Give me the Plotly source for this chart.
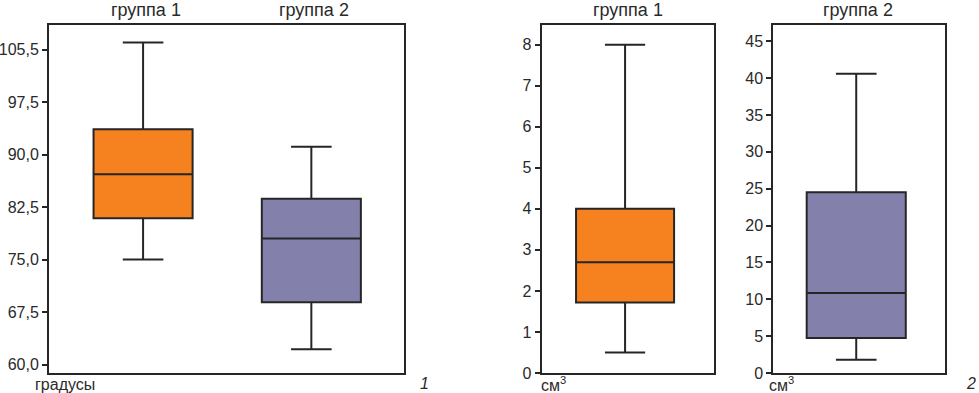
import plotly.graph_objects as go

W, H = 979, 393

# ---- data ----
deg_groups = ["группа 1", "группа 2"]
deg_lower = [75.0, 62.2]
deg_q1 = [80.9, 68.9]
deg_median = [87.2, 78.0]
deg_q3 = [93.6, 83.7]
deg_upper = [106.0, 91.1]
deg_tickvals = [60, 67.5, 75, 82.5, 90, 97.5, 105]
deg_ticktext = ["60,0", "67,5", "75,0", "82,5", "90,0", "97,5", "105,5"]

vol1_stats = dict(lower=0.5, q1=1.72, median=2.7, q3=4.0, upper=8.0)
vol1_tickvals = [0, 1, 2, 3, 4, 5, 6, 7, 8]

vol2_stats = dict(lower=1.8, q1=4.75, median=10.85, q3=24.5, upper=40.6)
vol2_tickvals = [0, 5, 10, 15, 20, 25, 30, 35, 40, 45]

ORANGE = "#F5821F"
PURPLE = "#8480AC"
LINE = "#262626"
TXT = "#2a2a2a"
FONT = "Liberation Sans, Arial, sans-serif"

def px_x(p):
    return p / W

def px_y(p):
    return 1 - p / H

fig = go.Figure()

# left panel
left_pos = [0.265, 0.739]
colors = [ORANGE, PURPLE]
for i in range(2):
    fig.add_trace(go.Box(
        x=[left_pos[i]], q1=[deg_q1[i]], median=[deg_median[i]], q3=[deg_q3[i]],
        lowerfence=[deg_lower[i]], upperfence=[deg_upper[i]],
        fillcolor=colors[i], line=dict(color=LINE, width=2),
        width=0.279, whiskerwidth=0.41, boxpoints=False,
        xaxis="x", yaxis="y", showlegend=False, hoverinfo="skip"))

# middle panel
fig.add_trace(go.Box(
    x=[0.483], q1=[vol1_stats["q1"]], median=[vol1_stats["median"]], q3=[vol1_stats["q3"]],
    lowerfence=[vol1_stats["lower"]], upperfence=[vol1_stats["upper"]],
    fillcolor=ORANGE, line=dict(color=LINE, width=2),
    width=0.568, whiskerwidth=0.41, boxpoints=False,
    xaxis="x2", yaxis="y2", showlegend=False, hoverinfo="skip"))

# right panel
fig.add_trace(go.Box(
    x=[0.483], q1=[vol2_stats["q1"]], median=[vol2_stats["median"]], q3=[vol2_stats["q3"]],
    lowerfence=[vol2_stats["lower"]], upperfence=[vol2_stats["upper"]],
    fillcolor=PURPLE, line=dict(color=LINE, width=2),
    width=0.577, whiskerwidth=0.41, boxpoints=False,
    xaxis="x3", yaxis="y3", showlegend=False, hoverinfo="skip"))

ydom = [px_y(373), px_y(25)]
xcommon = dict(range=[0, 1], showline=True, mirror=True, linecolor=LINE, linewidth=2,
               showticklabels=False, ticks="", showgrid=False, zeroline=False,
               fixedrange=True, automargin=False)
ycommon = dict(showline=True, mirror=True, linecolor=LINE, linewidth=2, ticks="outside",
               ticklen=5, tickwidth=1.5, tickcolor=LINE, showgrid=False, zeroline=False,
               tickfont=dict(family=FONT, size=16, color=TXT), fixedrange=True,
               automargin=False)

fig.update_layout(
    template="none",
    width=W, height=H,
    margin=dict(l=0, r=0, t=0, b=0, pad=0, autoexpand=False),
    paper_bgcolor="white", plot_bgcolor="white",
    xaxis=dict(domain=[px_x(49), px_x(404)], anchor="y", **xcommon),
    yaxis=dict(domain=ydom, anchor="x", range=[58.8, 108.5],
               tickvals=deg_tickvals, ticktext=deg_ticktext, **ycommon),
    xaxis2=dict(domain=[px_x(541.7), px_x(714.3)], anchor="y2", **xcommon),
    yaxis2=dict(domain=ydom, anchor="x2", range=[0, 8.48],
                tickvals=vol1_tickvals, **ycommon),
    xaxis3=dict(domain=[px_x(773.3), px_x(945)], anchor="y3", **xcommon),
    yaxis3=dict(domain=ydom, anchor="x3", range=[0, 47.2],
                tickvals=vol2_tickvals, **ycommon),
    font=dict(family=FONT, color=TXT),
    showlegend=False,
)

def ann(text, x, y, size=16, italic=False, xanchor="center"):
    t = f"<i>{text}</i>" if italic else text
    fig.add_annotation(text=t, x=px_x(x), y=px_y(y), xref="paper", yref="paper",
                       showarrow=False, xanchor=xanchor, yanchor="middle",
                       font=dict(family=FONT, size=size, color=TXT))

ann(deg_groups[0], 145.5, 9.5, size=18)
ann(deg_groups[1], 314, 9.5, size=18)
ann(deg_groups[0], 627.5, 9.5, size=18)
ann(deg_groups[1], 857.8, 9.5, size=18)
ann("градусы", 33, 384, size=16, xanchor="left")
ann("1", 424, 383, size=16, italic=True)
ann("см<sup>3</sup>", 539, 384, size=16, xanchor="left")
ann("см<sup>3</sup>", 767, 384, size=16, xanchor="left")
ann("2", 971, 383, size=16, italic=True)

fig.write_html("out.html",
               config={"displayModeBar": False},
               post_script="document.body.style.margin='0';document.body.style.overflow='hidden';")
